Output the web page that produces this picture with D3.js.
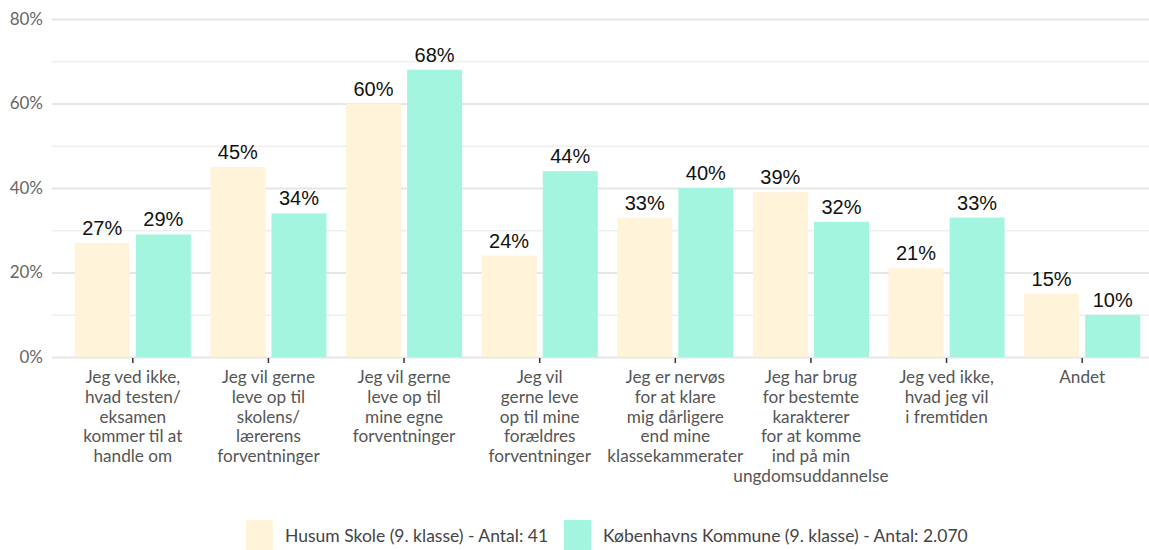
<!DOCTYPE html>
<html>
<head>
<meta charset="utf-8">
<script src="https://cdn.jsdelivr.net/npm/d3@7"></script>
<style>
  body { margin: 0; background: #fff; }
  svg { display: block; }
</style>
</head>
<body>
<div id="chart"></div>
<script>
const categories = [
  ['Jeg ved ikke,', 'hvad testen/', 'eksamen', 'kommer til at', 'handle om'],
  ['Jeg vil gerne', 'leve op til', 'skolens/', 'lærerens', 'forventninger'],
  ['Jeg vil gerne', 'leve op til', 'mine egne', 'forventninger'],
  ['Jeg vil', 'gerne leve', 'op til mine', 'forældres', 'forventninger'],
  ['Jeg er nervøs', 'for at klare', 'mig dårligere', 'end mine', 'klassekammerater'],
  ['Jeg har brug', 'for bestemte', 'karakterer', 'for at komme', 'ind på min', 'ungdomsuddannelse'],
  ['Jeg ved ikke,', 'hvad jeg vil', 'i fremtiden'],
  ['Andet']
]
const seriesNames = ['Husum Skole (9. klasse) - Antal: 41', 'Københavns Kommune (9. klasse) - Antal: 2.070']
const husum = [27, 45, 60, 24, 33, 39, 21, 15]
const kbh = [29, 34, 68, 44, 40, 32, 33, 10]
const yTicks = [0, 20, 40, 60, 80]
const gridTicks = [0, 10, 20, 30, 40, 50, 60, 70, 80]

const colors = ['#fff3da', '#a3f5df']
const width = 1149, height = 550

const svg = d3.select('#chart').append('svg')
  .attr('width', width)
  .attr('height', height)

const x0 = d3.scaleBand()
  .domain(d3.range(categories.length))
  .range([65, 1150])
  .paddingInner(0.144)
  .paddingOuter(0.072)

const x1 = d3.scaleBand()
  .domain([0, 1])
  .range([0, x0.bandwidth()])
  .paddingInner(0.1)

const y = d3.scaleLinear().domain([0, 80]).range([357, 19])

// gridlines
svg.append('g')
  .selectAll('line').data(gridTicks).enter()
  .append('line')
  .attr('x1', 52).attr('x2', width)
  .attr('y1', d => y(d) + 0.5).attr('y2', d => y(d) + 0.5)
  .attr('stroke', d => d % 20 === 0 ? '#e6e6e6' : '#efefef')
  .attr('stroke-width', d => d % 20 === 0 ? 2 : 1.5)

// y labels
svg.append('g')
  .selectAll('text').data(yTicks).enter()
  .append('text')
  .attr('x', 43).attr('y', d => y(d))
  .attr('dy', '0.35em')
  .attr('text-anchor', 'end')
  .attr('font-family', 'Lato, sans-serif')
  .attr('font-size', 17)
  .attr('fill', '#666')
  .text(d => d + '%')

// bars
const data = categories.map((c, i) => [husum[i], kbh[i]])
const groups = svg.append('g')
  .selectAll('g').data(data).enter()
  .append('g')
  .attr('transform', (d, i) => `translate(${x0(i)},0)`)

groups.selectAll('rect').data(d => d).enter()
  .append('rect')
  .attr('x', (d, j) => x1(j))
  .attr('width', x1.bandwidth())
  .attr('y', d => y(d))
  .attr('height', d => y(0) - y(d))
  .attr('fill', (d, j) => colors[j])

groups.selectAll('text').data(d => d).enter()
  .append('text')
  .attr('x', (d, j) => x1(j) + x1.bandwidth() / 2)
  .attr('y', d => y(d) - 8)
  .attr('text-anchor', 'middle')
  .attr('font-family', '"Liberation Sans", Arial, sans-serif')
  .attr('font-size', 20)
  .attr('fill', '#111')
  .text(d => d + '%')

// x axis ticks and labels
const xAxis = svg.append('g')
xAxis.selectAll('line').data(categories).enter()
  .append('line')
  .attr('x1', (d, i) => x0(i) + x0.bandwidth() / 2)
  .attr('x2', (d, i) => x0(i) + x0.bandwidth() / 2)
  .attr('y1', 358).attr('y2', 363)
  .attr('stroke', '#333')
  .attr('stroke-width', 1.5)

xAxis.selectAll('text').data(categories).enter()
  .append('text')
  .attr('x', (d, i) => x0(i) + x0.bandwidth() / 2)
  .attr('y', 383)
  .attr('text-anchor', 'middle')
  .attr('font-family', 'Lato, sans-serif')
  .attr('font-size', 17.2)
  .attr('fill', '#555')
  .each(function (lines) {
    const t = d3.select(this)
    lines.forEach((l, k) => {
      t.append('tspan')
        .attr('x', t.attr('x'))
        .attr('dy', k === 0 ? 0 : 19.8)
        .text(l)
    })
  })

// legend
const legendX = [246, 564]
const legend = svg.append('g')
  .selectAll('g').data(seriesNames).enter()
  .append('g')
  .attr('transform', (d, i) => `translate(${legendX[i]},520)`)
legend.append('rect')
  .attr('width', 27).attr('height', 30)
  .attr('fill', (d, i) => colors[i])
legend.append('text')
  .attr('x', 39).attr('y', 22)
  .attr('font-family', 'Lato, sans-serif')
  .attr('font-size', 17.5)
  .attr('fill', '#444')
  .text(d => d)
</script>
</body>
</html>
